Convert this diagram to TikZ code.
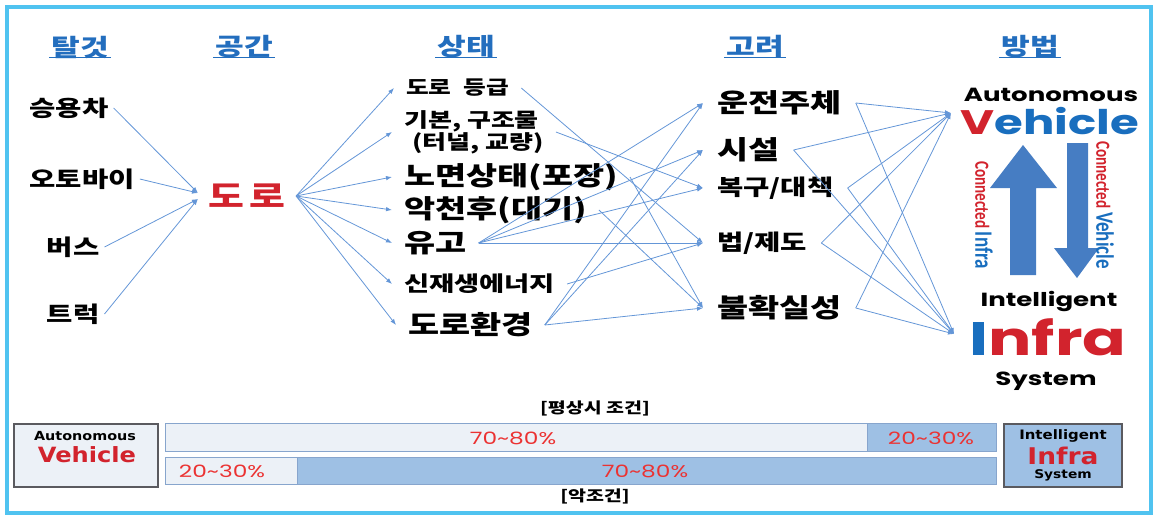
\documentclass[tikz,border=0pt]{standalone}
\usepackage{fontspec}
\usetikzlibrary{arrows.meta}
\newfontfamily\krf{Noto Sans CJK KR}[FakeStretch=1.3]
\newfontfamily\popw{Poppins}[FakeStretch=1.37]
\newfontfamily\dvs{DejaVu Sans}[FakeStretch=1.15]
\newfontfamily\carf{Carlito}
\definecolor{framec}{RGB}{80,195,240}
\definecolor{hdrc}{RGB}{35,110,190}
\definecolor{linec}{RGB}{100,150,215}
\definecolor{redc}{RGB}{210,35,45}
\definecolor{bluec}{RGB}{25,110,190}
\definecolor{arrc}{RGB}{70,125,195}
\definecolor{pctc}{RGB}{235,50,50}
\definecolor{lightc}{RGB}{236,241,247}
\definecolor{barc}{RGB}{158,192,228}
\definecolor{barline}{RGB}{135,165,205}
\definecolor{boxline}{RGB}{90,90,95}
\newcommand{\kf}[1]{\krf\bfseries\fontsize{#1}{#1}\selectfont}
\newcommand{\narrow}[1]{\scalebox{0.76}[1]{#1}}
\begin{document}
\begin{tikzpicture}[x=1pt,y=-1pt,
  hdr/.style={font=\kf{24}, text=hdrc, inner sep=0pt},
  hdrline/.style={draw=hdrc, line width=1.3pt},
  tA/.style={font=\kf{22}, inner xsep=5pt, inner ysep=0pt},
  st/.style={anchor=west, inner xsep=12pt, inner ysep=0pt},
  ko/.style={anchor=west, inner xsep=14pt, inner ysep=0pt},
  conn/.style={draw=linec, line width=0.8pt, -{Latex[length=6pt,width=4.5pt]}},
  bigarr/.style={fill=arrc},
  pct/.style={font=\popw\fontsize{17}{18}\selectfont, text=pctc, inner sep=0pt},
  lat/.style={anchor=base, inner sep=0pt},
  barL/.style={fill=lightc, draw=barline, line width=0.6pt},
  barB/.style={fill=barc, draw=barline, line width=0.6pt},
  boxS/.style={draw=boxline, line width=1.2pt},
  vtxt/.style={rotate=-90, inner sep=0pt, font=\carf\bfseries},
]
\useasboundingbox (0,0) rectangle (1161,516);
\draw[draw=framec, line width=4pt] (7,7) rectangle (1151,513);

% headers
\node[hdr] (h1) at (80,47) {탈것};
\node[hdr] (h2) at (244,47) {공간};
\node[hdr] (h3) at (466,47) {상태};
\node[hdr] (h4) at (755,47) {고려};
\node[hdr] (h5) at (1030,47) {방법};
\foreach \h in {h1,h2,h3,h4,h5}
  \draw[hdrline] ([xshift=-2pt,yshift=1pt]\h.south west) -- ([xshift=2pt,yshift=1pt]\h.south east);

% column 1
\node[tA] (v1) at (69,108) {승용차};
\node[tA] (v2) at (82,179) {오토바이};
\node[tA] (v3) at (73,247) {버스};
\node[tA] (v4) at (73,314) {트럭};

% road
\node[font=\kf{30}, text=redc, inner xsep=10pt, inner ysep=0pt] (doro) at (247,196) {도\hspace{6pt}로};

\draw[conn] (v1.east) -- ([yshift=3pt]doro.west);
\draw[conn] (v2.east) -- ([yshift=3pt]doro.west);
\draw[conn] (v3.east) -- ([yshift=-3pt]doro.west);
\draw[conn] (v4.east) -- ([yshift=-3pt]doro.west);

% column 3
\node[st, font=\kf{19}] (s1) at (394,88) {도로\hspace{12pt}등급};
\node[st, font=\krf\bfseries\fontsize{20}{22}\selectfont, align=left] (s2) at (392,132) {기본, 구조물\\\hspace{8pt}(터널, 교량)};
\node[st, font=\kf{26}] (s3) at (392,177) {노면상태(포장)};
\node[st, font=\kf{26}] (s4) at (392,210) {악천후(대기)};
\node[st, font=\kf{26}] (s5) at (392,243) {유고};
\node[st, font=\kf{21}] (s6) at (392,284) {신재생에너지};
\node[st, font=\kf{26}] (s7) at (396,325) {도로환경};
\foreach \s in {s1,s2,s3,s4,s5,s6,s7}
  \draw[conn] (doro.east) -- (\s.west);

% column 4
\node[ko, font=\kf{26}] (k1) at (703,103) {운전주체};
\node[ko, font=\kf{26}] (k2) at (703,150) {시설};
\node[ko, font=\kf{22}] (k3) at (703,188) {복구/대책};
\node[ko, font=\kf{22}] (k4) at (703,243) {법/제도};
\node[ko, font=\kf{26}] (k5) at (703,308) {불확실성};

\draw[conn] (s1.east) -- (k4.west);
\draw[conn] (s2.east) -- (k3.west);
\draw[conn] (s3.east) -- (k5.west);
\draw[conn] (s4.east) -- (k5.west);
\draw[conn] (s5.east) -- (k1.west);
\draw[conn] (s5.east) -- (k2.west);
\draw[conn] (s5.east) -- (k3.west);
\draw[conn] (s5.east) -- (k4.west);
\draw[conn] (s6.east) -- (k4.west);
\draw[conn] (s7.east) -- (k1.west);
\draw[conn] (s7.east) -- (k2.west);
\draw[conn] (s7.east) -- (k5.west);

% column 5
\node[lat, font=\popw\bfseries\fontsize{19}{20}\selectfont] (auto) at (1051,102) {Autonomous};
\node[lat, font=\popw\bfseries\fontsize{34}{36}\selectfont] (veh) at (1050,135) {\textcolor{redc}{V}\textcolor{bluec}{ehicle}};
\node[lat, font=\popw\bfseries\fontsize{19}{20}\selectfont] (intel) at (1049,306) {Intelligent};
\node[lat, font=\popw\bfseries\fontsize{47}{48}\selectfont] (infra) at (1048,355) {\textcolor{bluec}{I}\textcolor{redc}{nfra}};
\node[lat, font=\popw\bfseries\fontsize{19}{20}\selectfont] (sys) at (1046,385) {System};

\coordinate (vin) at (951,113);
\coordinate (iin) at (954,334);
\foreach \k in {k1,k2,k3,k4,k5}{
  \draw[conn] (\k.east) -- (vin);
  \draw[conn] (\k.east) -- (iin);
}

% big arrows
\fill[bigarr] (1010,275) -- (1010,188) -- (990,188) -- (1023,145) -- (1057,188) -- (1036,188) -- (1036,275) -- cycle;
\fill[bigarr] (1067,143) -- (1088,143) -- (1088,248) -- (1099,248) -- (1077,278) -- (1054,248) -- (1067,248) -- cycle;

\node[vtxt] (ci) at (984,215) {\narrow{\fontsize{20}{20}\selectfont\textcolor{redc}{Connected} \fontsize{25}{25}\selectfont\textcolor{bluec}{Infra}}};
\node[vtxt] (cv) at (1105,205) {\narrow{\fontsize{20}{20}\selectfont\textcolor{redc}{Connected} \fontsize{25}{25}\selectfont\textcolor{bluec}{Vehicle}}};

% bottom part
\node[font=\kf{15}, inner sep=0pt] (cond1) at (595,408) {[평상시 조건]};
\node[font=\kf{15}, inner sep=0pt] (cond2) at (595,496) {[악조건]};

\draw[boxS, fill=lightc] (14,424) rectangle (158,487);
\node[font=\dvs\bfseries\fontsize{12.5}{13}\selectfont, inner sep=0pt] (avA) at (85,436) {Autonomous};
\node[font=\dvs\bfseries\fontsize{21}{22}\selectfont, text=redc, inner sep=0pt] (avV) at (87,455) {Vehicle};

\draw[barL] (165,423) rectangle (867,451);
\draw[barB] (867,423) rectangle (996,451);
\draw[barL] (165,457) rectangle (297,484);
\draw[barB] (297,457) rectangle (996,484);
\node[pct] (p1) at (513,438) {70\textasciitilde80\%};
\node[pct] (p2) at (931,438) {20\textasciitilde30\%};
\node[pct] (p3) at (222,471) {20\textasciitilde30\%};
\node[pct] (p4) at (645,471) {70\textasciitilde80\%};

\draw[boxS, fill=barc] (1004,424) rectangle (1122,487);
\node[font=\dvs\bfseries\fontsize{13}{14}\selectfont, inner sep=0pt] (isI) at (1063,436) {Intelligent};
\node[font=\dvs\bfseries\fontsize{23}{24}\selectfont, text=redc, inner sep=0pt] (isF) at (1063,456) {Infra};
\node[font=\dvs\bfseries\fontsize{12}{13}\selectfont, inner sep=0pt] (isS) at (1063,475) {System};
\end{tikzpicture}
\end{document}
